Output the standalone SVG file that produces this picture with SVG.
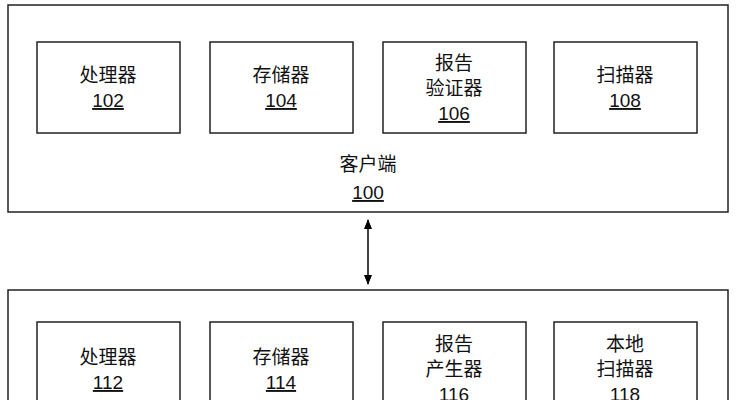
<svg xmlns="http://www.w3.org/2000/svg" width="736" height="400" viewBox="0 0 736 400">
<defs><marker id="ah" markerWidth="10" markerHeight="10" refX="9" refY="5" orient="auto-start-reverse" markerUnits="userSpaceOnUse"><path d="M0,1 L10,5 L0,9 Z" fill="#000"/></marker></defs>
<style>rect{fill:#fff;stroke:#222;stroke-width:1.5}text{font-family:"Liberation Sans","Noto Sans CJK SC",sans-serif;font-size:19px;fill:#111;text-anchor:middle}.u{text-decoration:underline}</style>
<rect x="0" y="0" width="736" height="400" style="stroke:none"/>
<g id="client"><rect x="8" y="5" width="720" height="207"/><text x="368" y="171">客户端</text><text x="368" y="199" class="u">100</text></g>
<g id="n102"><rect x="37" y="42" width="143" height="91"/><text x="108" y="82">处理器</text><text x="108" y="107" class="u">102</text></g>
<g id="n104"><rect x="210" y="42" width="143" height="91"/><text x="281" y="82">存储器</text><text x="281" y="107" class="u">104</text></g>
<g id="n106"><rect x="383" y="42" width="143" height="91"/><text x="454" y="70">报告</text><text x="454" y="95">验证器</text><text x="454" y="120" class="u">106</text></g>
<g id="n108"><rect x="554" y="42" width="143" height="91"/><text x="625" y="82">扫描器</text><text x="625" y="107" class="u">108</text></g>
<g id="connectors"><line x1="368" y1="220" x2="368" y2="284" stroke="#000" stroke-width="1.5" marker-start="url(#ah)" marker-end="url(#ah)"/></g>
<g id="server"><rect x="8" y="290" width="720" height="130"/></g>
<g id="n112"><rect x="37" y="322" width="143" height="100"/><text x="108" y="364">处理器</text><text x="108" y="389" class="u">112</text></g>
<g id="n114"><rect x="210" y="322" width="143" height="100"/><text x="281" y="364">存储器</text><text x="281" y="389" class="u">114</text></g>
<g id="n116"><rect x="383" y="322" width="143" height="100"/><text x="454" y="351">报告</text><text x="454" y="376">产生器</text><text x="454" y="401" class="u">116</text></g>
<g id="n118"><rect x="554" y="322" width="143" height="100"/><text x="625" y="351">本地</text><text x="625" y="376">扫描器</text><text x="625" y="401" class="u">118</text></g>
</svg>
